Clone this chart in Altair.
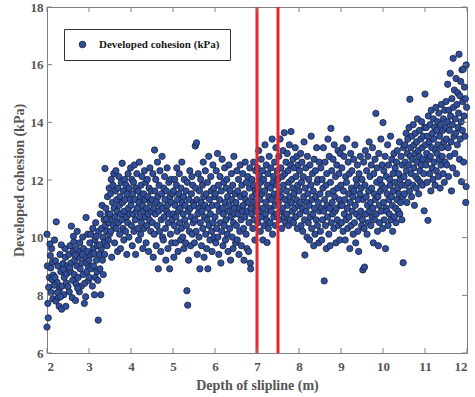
import altair as alt
import pandas as pd

# ---- data (grouped by 0.5 m depth band) ----
band_20 = [(2.00,6.90),(2.03,7.22),(2.02,7.72),(2.04,8.28),(2.01,9.02),(2.00,10.12),(2.06,8.62),(2.08,9.38),(2.09,8.95),(2.11,9.62),(2.10,8.10),(2.14,7.88),(2.15,8.70),(2.13,9.15),(2.18,9.92),(2.20,9.20),(2.22,10.55),(2.21,7.80),(2.24,8.45),(2.26,9.02),(2.27,7.92),(2.29,7.62),(2.30,8.22),(2.31,9.42),(2.33,8.82),(2.35,7.52),(2.36,8.32),(2.38,9.10),(2.40,8.02),(2.41,8.62),(2.43,9.62),(2.45,7.62),(2.46,8.42),(2.48,9.02),(2.44,9.32),(2.17,8.35),(2.12,8.55),(2.07,9.78),(2.34,9.75),(2.39,8.90),(2.25,8.10),(2.47,8.75),(2.19,8.62),(2.32,7.95)]
band_25 = [(2.50,8.30),(2.52,9.42),(2.53,8.12),(2.55,9.72),(2.56,8.82),(2.58,10.40),(2.57,9.12),(2.60,7.92),(2.61,8.52),(2.62,9.52),(2.63,10.05),(2.65,8.72),(2.66,9.22),(2.68,7.82),(2.69,8.40),(2.70,9.62),(2.71,9.02),(2.72,10.22),(2.74,8.62),(2.75,9.32),(2.77,8.12),(2.78,9.82),(2.79,8.92),(2.80,9.52),(2.82,8.32),(2.83,9.12),(2.85,10.02),(2.86,8.72),(2.87,9.62),(2.89,7.72),(2.90,8.42),(2.91,9.32),(2.92,7.95),(2.93,10.70),(2.95,8.82),(2.96,9.52),(2.97,10.12),(2.98,9.02),(2.99,8.52),(2.54,8.95),(2.64,9.85),(2.73,8.25),(2.84,9.42),(2.94,9.15),(2.67,9.40)]
band_30 = [(3.00,9.22),(3.01,8.62),(3.02,9.82),(3.04,10.12),(3.05,8.92),(3.06,9.42),(3.08,8.32),(3.09,10.32),(3.10,9.62),(3.11,9.02),(3.13,8.02),(3.14,9.92),(3.15,8.62),(3.16,10.52),(3.18,9.22),(3.19,8.82),(3.20,9.72),(3.22,7.14),(3.21,8.52),(3.23,10.22),(3.24,9.42),(3.26,8.92),(3.27,10.82),(3.28,8.02),(3.29,9.62),(3.30,10.32),(3.31,11.12),(3.32,9.22),(3.33,10.02),(3.35,9.82),(3.36,10.62),(3.37,9.42),(3.38,12.40),(3.39,10.42),(3.40,11.02),(3.42,10.22),(3.43,9.72),(3.44,11.42),(3.45,10.82),(3.46,9.92),(3.47,10.52),(3.48,11.72),(3.49,10.12),(3.12,9.45),(3.17,10.05),(3.25,9.75),(3.34,8.72),(3.41,10.65)]
band_35 = [(3.50,10.82),(3.51,11.52),(3.52,10.22),(3.53,12.02),(3.54,9.32),(3.55,10.62),(3.56,11.22),(3.57,11.82),(3.58,10.42),(3.59,12.22),(3.60,11.02),(3.61,9.82),(3.62,10.72),(3.63,11.62),(3.64,12.32),(3.65,10.32),(3.66,11.32),(3.67,10.92),(3.68,9.52),(3.69,11.72),(3.70,10.52),(3.71,12.12),(3.72,11.12),(3.73,10.12),(3.74,11.42),(3.75,9.62),(3.76,10.82),(3.77,11.92),(3.78,10.62),(3.79,12.58),(3.80,11.22),(3.81,10.32),(3.82,11.62),(3.83,9.92),(3.84,10.92),(3.85,12.02),(3.86,11.32),(3.87,10.22),(3.88,11.82),(3.89,10.72),(3.90,9.42),(3.91,11.52),(3.92,10.52),(3.93,12.22),(3.94,11.02),(3.95,10.02),(3.96,11.72),(3.97,10.82),(3.98,11.32),(3.99,12.42)]
band_40 = [(4.00,11.12),(4.01,10.42),(4.02,12.02),(4.03,9.72),(4.04,11.52),(4.05,10.82),(4.06,11.92),(4.07,10.22),(4.08,12.52),(4.09,11.32),(4.10,10.62),(4.11,9.42),(4.12,11.72),(4.13,10.92),(4.14,12.22),(4.15,11.02),(4.16,10.32),(4.17,11.62),(4.18,9.92),(4.19,11.22),(4.20,12.62),(4.21,10.72),(4.22,11.42),(4.23,10.12),(4.24,11.82),(4.25,10.52),(4.26,12.12),(4.27,11.12),(4.28,9.62),(4.29,10.92),(4.30,11.52),(4.31,10.32),(4.32,12.32),(4.33,11.32),(4.34,10.72),(4.35,11.92),(4.36,9.82),(4.37,11.02),(4.38,10.42),(4.39,12.02),(4.40,11.42),(4.41,10.82),(4.42,9.52),(4.43,11.72),(4.44,10.62),(4.45,12.42),(4.46,11.22),(4.47,10.22),(4.48,11.62),(4.49,10.92)]
band_45 = [(4.50,11.32),(4.51,10.52),(4.52,12.22),(4.53,9.32),(4.54,11.02),(4.55,10.12),(4.56,13.04),(4.57,11.62),(4.58,10.82),(4.59,12.02),(4.60,9.72),(4.61,11.22),(4.62,10.42),(4.63,12.62),(4.64,11.42),(4.65,8.92),(4.66,10.92),(4.67,11.82),(4.68,10.22),(4.69,12.32),(4.70,11.12),(4.71,9.52),(4.72,10.62),(4.73,11.52),(4.74,12.82),(4.75,10.02),(4.76,11.02),(4.77,9.92),(4.78,11.72),(4.79,10.72),(4.80,12.12),(4.81,11.32),(4.82,10.32),(4.83,9.22),(4.84,11.62),(4.85,10.92),(4.86,12.42),(4.87,11.12),(4.88,9.62),(4.89,10.52),(4.90,11.92),(4.91,10.82),(4.92,8.92),(4.93,11.42),(4.94,10.12),(4.95,12.02),(4.96,11.22),(4.97,9.82),(4.98,10.62),(4.99,11.52)]
band_50 = [(5.00,10.82),(5.01,11.62),(5.02,9.32),(5.03,10.42),(5.04,12.02),(5.05,11.12),(5.06,9.82),(5.07,10.72),(5.08,11.82),(5.09,12.42),(5.10,10.22),(5.11,11.32),(5.12,9.52),(5.13,10.92),(5.14,11.52),(5.15,12.22),(5.16,10.52),(5.17,11.02),(5.18,9.92),(5.19,11.72),(5.20,10.32),(5.21,12.62),(5.22,11.22),(5.23,10.02),(5.24,10.82),(5.25,11.42),(5.26,9.62),(5.27,12.02),(5.28,10.62),(5.29,11.12),(5.30,9.82),(5.31,11.62),(5.32,10.42),(5.33,8.16),(5.35,7.66),(5.34,11.92),(5.36,10.92),(5.37,9.22),(5.38,11.32),(5.39,10.22),(5.40,12.32),(5.41,11.02),(5.42,9.72),(5.43,10.72),(5.44,11.52),(5.45,12.12),(5.46,10.12),(5.47,11.82),(5.48,10.52),(5.49,11.22)]
band_55 = [(5.50,11.12),(5.51,9.82),(5.52,10.62),(5.53,13.18),(5.54,11.72),(5.55,10.22),(5.56,13.29),(5.57,11.32),(5.58,9.42),(5.59,10.82),(5.60,12.22),(5.61,11.02),(5.62,10.02),(5.63,11.62),(5.64,8.92),(5.65,10.52),(5.66,12.02),(5.67,11.22),(5.68,9.72),(5.69,10.92),(5.70,11.82),(5.71,10.32),(5.72,12.62),(5.73,11.42),(5.74,9.32),(5.75,10.72),(5.76,11.12),(5.77,12.32),(5.78,10.12),(5.79,11.52),(5.80,9.62),(5.81,10.62),(5.82,11.92),(5.83,8.92),(5.84,11.02),(5.85,12.82),(5.86,10.42),(5.87,11.32),(5.88,9.92),(5.89,10.82),(5.90,12.12),(5.91,11.62),(5.92,10.22),(5.93,9.52),(5.94,11.12),(5.95,12.52),(5.96,10.52),(5.97,11.72),(5.98,10.02),(5.99,11.42)]
band_60 = [(6.00,10.72),(6.01,11.52),(6.02,9.82),(6.03,12.32),(6.04,10.32),(6.05,11.12),(6.06,12.92),(6.07,10.02),(6.08,11.82),(6.09,9.42),(6.10,10.92),(6.11,11.32),(6.12,12.12),(6.13,10.52),(6.14,9.12),(6.15,11.62),(6.16,10.22),(6.17,12.72),(6.18,11.02),(6.19,9.72),(6.20,10.82),(6.21,11.92),(6.22,10.42),(6.23,12.42),(6.24,11.22),(6.25,9.92),(6.26,10.62),(6.27,11.72),(6.28,12.02),(6.29,10.12),(6.30,11.42),(6.31,9.52),(6.32,10.92),(6.33,12.52),(6.34,11.12),(6.35,10.32),(6.36,11.62),(6.37,9.22),(6.38,10.72),(6.39,12.22),(6.40,11.32),(6.41,10.02),(6.42,11.82),(6.43,9.62),(6.44,10.52),(6.45,12.82),(6.46,11.02),(6.47,10.82),(6.48,11.52),(6.49,9.82)]
band_65 = [(6.50,11.22),(6.51,10.42),(6.52,12.32),(6.53,9.92),(6.54,11.62),(6.55,10.82),(6.56,12.02),(6.57,9.42),(6.58,11.02),(6.59,10.22),(6.60,12.52),(6.61,11.42),(6.62,10.62),(6.63,9.72),(6.64,11.82),(6.65,10.92),(6.66,12.22),(6.67,11.12),(6.68,10.32),(6.69,9.22),(6.70,11.52),(6.71,10.72),(6.72,12.62),(6.73,11.32),(6.74,10.12),(6.75,11.92),(6.76,9.62),(6.77,10.92),(6.78,12.12),(6.79,11.22),(6.80,9.52),(6.81,10.52),(6.82,11.72),(6.83,12.42),(6.84,9.12),(6.85,8.92),(6.86,11.02),(6.87,10.82),(6.88,12.02),(6.89,11.42),(6.90,10.32),(6.91,11.82),(6.92,12.62),(6.93,10.62),(6.94,11.22),(6.95,9.92),(6.96,11.62),(6.97,12.32),(6.98,10.92),(6.99,11.52)]
band_70 = [(7.00,11.12),(7.01,12.42),(7.02,10.52),(7.03,11.72),(7.04,13.02),(7.05,10.92),(7.06,12.12),(7.07,11.32),(7.08,10.22),(7.09,11.92),(7.10,12.72),(7.11,10.72),(7.12,11.52),(7.13,12.32),(7.14,9.92),(7.15,11.02),(7.16,12.02),(7.17,10.42),(7.18,11.62),(7.19,13.22),(7.20,10.82),(7.21,11.22),(7.22,12.52),(7.23,10.62),(7.24,9.83),(7.25,11.82),(7.26,12.22),(7.27,10.32),(7.28,11.42),(7.29,12.82),(7.30,11.02),(7.31,10.52),(7.32,11.72),(7.33,12.42),(7.34,10.92),(7.35,11.32),(7.36,13.42),(7.37,10.12),(7.38,11.92),(7.39,12.12),(7.40,10.72),(7.41,11.52),(7.42,12.62),(7.43,11.12),(7.44,10.42),(7.45,13.12),(7.46,11.82),(7.47,10.82),(7.48,12.32),(7.49,11.42)]
band_75 = [(7.50,12.02),(7.51,11.22),(7.52,12.82),(7.53,10.62),(7.54,11.62),(7.55,13.42),(7.56,10.92),(7.57,12.42),(7.58,11.42),(7.59,10.32),(7.60,12.12),(7.61,11.02),(7.62,13.02),(7.63,11.82),(7.64,10.72),(7.65,13.64),(7.66,12.22),(7.67,11.32),(7.68,10.52),(7.69,12.62),(7.70,11.62),(7.71,10.82),(7.72,12.92),(7.73,11.12),(7.74,12.32),(7.75,10.42),(7.76,11.92),(7.77,13.22),(7.78,11.42),(7.79,10.62),(7.80,12.52),(7.81,13.68),(7.82,11.22),(7.83,12.02),(7.84,10.92),(7.85,11.72),(7.86,12.72),(7.87,10.52),(7.88,11.52),(7.89,12.42),(7.90,11.02),(7.91,13.12),(7.92,10.72),(7.93,12.12),(7.94,11.32),(7.95,12.82),(7.96,10.32),(7.97,11.82),(7.98,12.52),(7.99,11.12)]
band_80 = [(8.00,11.62),(8.01,12.32),(8.02,10.82),(8.03,11.22),(8.04,12.92),(8.05,10.42),(8.06,11.92),(8.07,12.62),(8.08,11.02),(8.09,10.22),(8.10,12.12),(8.11,11.42),(8.12,13.32),(8.13,10.62),(8.14,9.40),(8.15,11.72),(8.16,12.42),(8.17,10.92),(8.18,11.22),(8.19,10.02),(8.20,12.82),(8.21,11.52),(8.22,10.52),(8.23,12.02),(8.24,11.12),(8.25,9.92),(8.26,12.52),(8.27,10.72),(8.28,11.82),(8.29,13.52),(8.30,10.32),(8.31,11.32),(8.32,12.22),(8.33,10.82),(8.34,11.62),(8.35,9.72),(8.36,12.72),(8.37,11.02),(8.38,10.12),(8.39,12.32),(8.40,11.42),(8.41,10.62),(8.42,13.12),(8.43,11.92),(8.44,10.42),(8.45,12.02),(8.46,11.22),(8.47,9.82),(8.48,12.62),(8.49,10.92)]
band_85 = [(8.50,11.52),(8.51,10.22),(8.52,12.42),(8.53,11.02),(8.54,9.92),(8.55,12.02),(8.56,10.62),(8.57,11.72),(8.58,13.12),(8.59,10.92),(8.60,8.50),(8.61,11.32),(8.62,12.62),(8.63,10.42),(8.64,11.82),(8.65,9.62),(8.66,12.22),(8.67,11.12),(8.68,10.72),(8.69,13.42),(8.70,11.52),(8.71,10.12),(8.72,12.82),(8.73,11.02),(8.74,9.72),(8.75,11.92),(8.76,13.79),(8.77,10.52),(8.78,12.32),(8.79,11.22),(8.80,10.82),(8.81,12.72),(8.82,11.62),(8.83,10.32),(8.84,13.22),(8.85,11.42),(8.86,10.92),(8.87,12.12),(8.88,9.82),(8.89,11.02),(8.90,12.52),(8.91,10.62),(8.92,11.72),(8.93,13.02),(8.94,10.42),(8.95,12.22),(8.96,11.32),(8.97,9.92),(8.98,12.92),(8.99,11.12)]
band_90 = [(9.00,11.82),(9.01,10.52),(9.02,12.42),(9.03,11.12),(9.04,13.12),(9.05,10.22),(9.06,11.62),(9.07,12.82),(9.08,10.82),(9.09,11.32),(9.10,9.92),(9.11,12.12),(9.12,10.62),(9.13,11.92),(9.14,13.42),(9.15,11.02),(9.16,10.32),(9.17,12.62),(9.18,11.52),(9.19,10.72),(9.20,12.22),(9.21,9.62),(9.22,11.22),(9.23,12.92),(9.24,10.42),(9.25,11.72),(9.26,12.32),(9.27,10.92),(9.28,11.42),(9.29,10.12),(9.30,12.72),(9.31,11.62),(9.32,10.52),(9.33,13.22),(9.34,11.12),(9.35,9.82),(9.36,12.02),(9.37,10.82),(9.38,11.82),(9.39,12.52),(9.40,10.22),(9.41,11.32),(9.42,9.52),(9.43,12.22),(9.44,10.72),(9.45,11.52),(9.46,12.82),(9.47,10.92),(9.48,11.72),(9.49,10.42)]
band_95 = [(9.50,12.02),(9.51,10.62),(9.52,8.88),(9.53,11.32),(9.54,12.62),(9.55,10.32),(9.56,8.98),(9.57,11.82),(9.58,13.02),(9.59,10.82),(9.60,11.42),(9.61,12.32),(9.62,10.12),(9.63,11.12),(9.64,12.82),(9.65,10.52),(9.66,11.62),(9.67,13.32),(9.68,10.92),(9.69,12.12),(9.70,11.22),(9.71,10.42),(9.72,12.52),(9.73,11.72),(9.74,10.72),(9.75,13.12),(9.76,11.02),(9.77,9.82),(9.78,12.22),(9.79,11.52),(9.80,10.62),(9.81,12.72),(9.82,11.32),(9.83,14.31),(9.84,10.82),(9.85,11.92),(9.86,12.42),(9.87,10.22),(9.88,11.42),(9.89,9.72),(9.90,12.92),(9.91,11.12),(9.92,10.52),(9.93,12.02),(9.94,11.62),(9.95,13.42),(9.96,10.92),(9.97,11.82),(9.98,12.52),(9.99,10.32)]
band_100 = [(10.00,13.99),(10.01,11.22),(10.02,12.32),(10.03,10.62),(10.04,11.72),(10.05,12.82),(10.06,9.62),(10.07,11.02),(10.08,12.12),(10.09,10.92),(10.10,11.52),(10.11,13.22),(10.12,10.42),(10.13,12.52),(10.14,11.32),(10.15,10.82),(10.16,12.02),(10.17,11.82),(10.18,13.52),(10.19,10.62),(10.20,11.42),(10.21,12.72),(10.22,11.12),(10.23,10.22),(10.24,12.22),(10.25,11.62),(10.26,12.92),(10.27,10.72),(10.28,11.92),(10.29,12.42),(10.30,11.02),(10.31,10.52),(10.32,12.62),(10.33,11.32),(10.34,13.02),(10.35,11.72),(10.36,10.92),(10.37,12.22),(10.38,11.52),(10.39,13.32),(10.40,10.82),(10.41,12.02),(10.42,11.22),(10.43,12.82),(10.44,11.82),(10.45,10.62),(10.46,12.52),(10.47,11.42),(10.48,9.13),(10.49,13.12)]
band_105 = [(10.50,12.12),(10.51,11.52),(10.52,13.22),(10.53,12.62),(10.54,11.82),(10.55,13.62),(10.56,12.32),(10.57,11.22),(10.58,12.92),(10.59,13.42),(10.60,11.92),(10.61,12.52),(10.62,13.82),(10.63,11.62),(10.64,14.80),(10.65,12.82),(10.66,13.12),(10.67,12.22),(10.68,11.42),(10.69,13.52),(10.70,12.72),(10.71,11.82),(10.72,13.92),(10.73,12.42),(10.74,13.22),(10.75,11.12),(10.76,12.92),(10.77,13.62),(10.78,12.12),(10.79,11.72),(10.80,13.32),(10.81,12.62),(10.82,14.12),(10.83,12.02),(10.84,13.02),(10.85,11.52),(10.86,12.82),(10.87,13.72),(10.88,12.32),(10.89,11.92),(10.90,13.42),(10.91,12.52),(10.92,14.02),(10.93,13.12),(10.94,11.82),(10.95,12.72),(10.96,13.52),(10.97,12.22),(10.98,10.93),(10.99,13.82)]
band_110 = [(11.00,14.98),(11.01,13.22),(11.02,12.52),(11.03,13.82),(11.04,12.92),(11.05,11.92),(11.06,13.52),(11.07,10.60),(11.08,14.22),(11.09,12.72),(11.10,13.32),(11.11,12.22),(11.12,13.92),(11.13,12.82),(11.14,11.62),(11.15,14.42),(11.16,13.12),(11.17,12.42),(11.18,13.62),(11.19,12.02),(11.20,14.12),(11.21,13.42),(11.22,12.62),(11.23,13.82),(11.24,11.82),(11.25,13.02),(11.26,14.52),(11.27,12.32),(11.28,13.72),(11.29,12.92),(11.30,14.02),(11.31,13.22),(11.32,12.12),(11.33,14.32),(11.34,12.72),(11.35,13.52),(11.36,11.72),(11.37,13.92),(11.38,12.52),(11.39,14.62),(11.40,13.12),(11.41,12.82),(11.42,13.72),(11.43,12.22),(11.44,14.12),(11.45,13.32),(11.46,11.92),(11.47,14.42),(11.48,12.62),(11.49,13.82)]
band_115 = [(11.50,14.72),(11.51,13.42),(11.52,12.52),(11.53,14.02),(11.54,15.32),(11.55,13.12),(11.56,12.12),(11.57,14.42),(11.58,13.72),(11.59,12.82),(11.60,15.70),(11.61,14.22),(11.62,13.32),(11.63,11.62),(11.64,14.82),(11.65,13.92),(11.66,12.42),(11.67,16.22),(11.68,14.52),(11.69,13.52),(11.70,15.12),(11.71,12.92),(11.72,14.12),(11.73,13.62),(11.74,15.52),(11.75,12.22),(11.76,14.62),(11.77,13.22),(11.78,15.02),(11.79,13.82),(11.80,14.32),(11.81,16.36),(11.82,12.72),(11.83,14.92),(11.84,13.42),(11.85,15.42),(11.86,14.02),(11.87,11.94),(11.88,15.82),(11.89,13.72),(11.90,14.72),(11.91,15.84),(11.92,12.62),(11.93,14.22),(11.94,15.22),(11.95,13.52),(11.96,14.82),(11.97,11.22),(11.98,15.99),(11.99,14.52),(11.98,11.77)]

slip_depths = [7.0, 7.5]
x_ticks = [2, 3, 4, 5, 6, 7, 8, 9, 10, 11, 12]
y_ticks = [6, 8, 10, 12, 14, 16, 18]
series_label = "Developed cohesion (kPa)"

bands = [band_20, band_25, band_30, band_35, band_40, band_45, band_50, band_55,
         band_60, band_65, band_70, band_75, band_80, band_85, band_90, band_95,
         band_100, band_105, band_110, band_115]
pts = [p for b in bands for p in b]
df = pd.DataFrame({"depth": [p[0] for p in pts], "cohesion": [p[1] for p in pts],
                   "series": series_label})

FONT = "Liberation Serif"
GRAY = "#555555"
W, H = 420, 346

xscale = alt.Scale(domain=[2, 12], nice=False, zero=False)
yscale = alt.Scale(domain=[6, 18], nice=False, zero=False)

points = alt.Chart(df).mark_circle(
    size=40, opacity=1, stroke="#1b2236", strokeWidth=0.8
).encode(
    x=alt.X("depth:Q", scale=xscale,
            axis=alt.Axis(values=x_ticks, title="Depth of slipline (m)", ticks=False,
                          labelPadding=7, titlePadding=5, grid=False)),
    y=alt.Y("cohesion:Q", scale=yscale,
            axis=alt.Axis(values=y_ticks, title="Developed cohesion (kPa)", ticks=False,
                          labelPadding=4, titlePadding=4, grid=False)),
    color=alt.Color("series:N",
                    scale=alt.Scale(domain=[series_label], range=["#2f4f9e"]),
                    legend=alt.Legend(title=None, orient="none", legendX=17, legendY=22,
                                      padding=10, strokeColor="#333333", fillColor="white",
                                      labelFont=FONT, labelFontWeight="bold", labelFontSize=11,
                                      labelColor="#1a1a1a", symbolType="circle", symbolSize=44,
                                      symbolStrokeColor="#1b2236", symbolStrokeWidth=0.8,
                                      labelOffset=11, symbolOffset=3)),
)

slip = alt.Chart(pd.DataFrame({"d": slip_depths})).mark_rule(
    color="#e8262b", strokeWidth=3
).encode(x=alt.X("d:Q", scale=xscale))

xt = pd.DataFrame({"t": x_ticks})
yt = pd.DataFrame({"t": y_ticks})
tick_style = dict(color="#808080", strokeWidth=1)
xtick_bot = alt.Chart(xt).mark_rule(**tick_style).encode(
    x=alt.X("t:Q", scale=xscale), y=alt.value(H), y2=alt.value(H - 5))
xtick_top = alt.Chart(xt).mark_rule(**tick_style).encode(
    x=alt.X("t:Q", scale=xscale), y=alt.value(0), y2=alt.value(5))
ytick_l = alt.Chart(yt).mark_rule(**tick_style).encode(
    y=alt.Y("t:Q", scale=yscale), x=alt.value(0), x2=alt.value(5))
ytick_r = alt.Chart(yt).mark_rule(**tick_style).encode(
    y=alt.Y("t:Q", scale=yscale), x=alt.value(W), x2=alt.value(W - 5))

chart = alt.layer(points, slip, xtick_bot, xtick_top, ytick_l, ytick_r).properties(
    width=W, height=H,
    autosize=alt.AutoSizeParams(type="none"),
    padding={"left": 47, "top": 7, "right": 8, "bottom": 44},
    background="white",
).configure_view(
    stroke="#808080", strokeWidth=1
).configure_axis(
    domainColor="#808080", domainWidth=1,
    labelFont=FONT, labelFontWeight="bold", labelFontSize=13, labelColor=GRAY,
    titleFont=FONT, titleFontWeight="bold", titleFontSize=14, titleColor=GRAY,
)

chart.save("out.html", embed_options={"renderer": "svg", "actions": False})
